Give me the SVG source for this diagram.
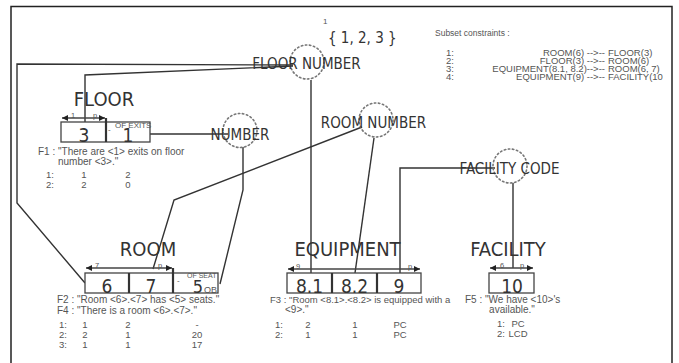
<svg xmlns="http://www.w3.org/2000/svg" width="679" height="363" viewBox="0 0 679 363">
<style>
.title{font-family:"DejaVu Sans Condensed","DejaVu Sans",sans-serif;font-size:20px;fill:#333}
.role{font-family:"DejaVu Sans Condensed","DejaVu Sans",sans-serif;font-size:15px;fill:#333}
.val{font-family:"DejaVu Sans Condensed","DejaVu Sans",sans-serif;font-size:19px;fill:#333;text-anchor:middle}
.sm{font-family:"Liberation Sans",Arial,sans-serif;font-size:10px;fill:#555}
.sc{font-family:"Liberation Sans",Arial,sans-serif;font-size:9.5px;fill:#555}
.tb{font-family:"Liberation Sans",Arial,sans-serif;font-size:9.5px;fill:#555}
.tiny{font-family:"Liberation Sans",Arial,sans-serif;font-size:8px;fill:#555}
.lab{font-family:"Liberation Sans",Arial,sans-serif;font-size:7.5px;fill:#555}
.mid{text-anchor:middle}
.end{text-anchor:end}
.box{fill:#fff;stroke:#444;stroke-width:1.3}
.sep{stroke:#333;stroke-width:2.2}
.arr{stroke:#444;stroke-width:1.3;marker-start:url(#ah);marker-end:url(#ah)}
.con{fill:none;stroke:#333;stroke-width:1.4}
.dot{fill:none;stroke:#777;stroke-width:1.6;stroke-dasharray:1.5 2.6;stroke-linecap:round}
</style>
<defs>
<marker id="ah" viewBox="0 0 6 6" refX="6" refY="3" markerWidth="6" markerHeight="6" markerUnits="userSpaceOnUse" orient="auto-start-reverse">
<path d="M0,0 L6,3 L0,6 z" fill="#222"/>
</marker>
</defs>
<rect x="0" y="0" width="679" height="363" fill="#fff"/>
<rect x="11" y="6.5" width="661" height="370" fill="none" stroke="#222" stroke-width="1.5"/>

<g id="connectors">
<polyline class="con" points="293,65 17,64 17,203 85,283"/>
<polyline class="con" points="293,66 85,75 85,122"/>
<polyline class="con" points="150,134 228,134"/>
<polyline class="con" points="243,147 243,190 220,284"/>
<polyline class="con" points="362,127 174,200 153,269"/>
<polyline class="con" points="374,138 355,273"/>
<polyline class="con" points="311,80 311,273"/>
<polyline class="con" points="400,273 400,168 495,168"/>
<polyline class="con" points="513,183 513,268"/>
</g>

<g id="value-set">
<text class="tiny" x="323" y="24">1</text>
<text class="role" x="328" y="43">{ 1, 2, 3 }</text>
</g>

<g id="subset-constraints">
<text class="tiny" x="435" y="36" style="font-size:8.5px">Subset constraints :</text>
<text class="sc" x="446" y="56">1:</text>
<text class="sc" x="446" y="64">2:</text>
<text class="sc" x="446" y="72">3:</text>
<text class="sc" x="446" y="80">4:</text>
<text class="sc end" x="605" y="56">ROOM(6) --&gt;--</text>
<text class="sc end" x="605" y="64">FLOOR(3) --&gt;--</text>
<text class="sc end" x="605" y="72">EQUIPMENT(8.1, 8.2)--&gt;--</text>
<text class="sc end" x="605" y="80">EQUIPMENT(9) --&gt;--</text>
<text class="sc" x="608" y="56">FLOOR(3)</text>
<text class="sc" x="608" y="64">ROOM(6)</text>
<text class="sc" x="608" y="72">ROOM(6, 7)</text>
<text class="sc" x="608" y="80">FACILITY(10</text>
</g>

<g id="floor-number">
<circle class="dot" cx="307" cy="62" r="17"/>
<text class="role mid" x="306.5" y="69">FLOOR NUMBER</text>
</g>
<g id="number">
<circle class="dot" cx="240" cy="130.5" r="17"/>
<text class="role mid" x="240" y="140">NUMBER</text>
</g>
<g id="room-number">
<circle class="dot" cx="376" cy="120" r="17"/>
<text class="role mid" x="373.5" y="128">ROOM NUMBER</text>
</g>
<g id="facility-code">
<circle class="dot" cx="510" cy="166" r="17"/>
<text class="role mid" x="509.5" y="174">FACILITY CODE</text>
</g>

<g id="floor">
<text class="title mid" x="104" y="106">FLOOR</text>
<line class="arr" x1="62" y1="118" x2="105" y2="118"/>
<text class="lab" x="71" y="117.5">1</text>
<text class="lab" x="93" y="117.5">p</text>
<rect class="box" x="61" y="122" width="89" height="20"/>
<line class="sep" x1="106" y1="118" x2="106" y2="142"/>
<text class="val" x="84" y="141.5">3</text>
<text class="val" x="128" y="141.5">1</text>
<text class="tiny" x="108" y="132">-</text>
<text class="tiny" x="115" y="127.5">OF EXITS</text>
<text class="sm" x="38" y="155">F1 : "There are &lt;1&gt; exits on floor</text>
<text class="sm" x="58" y="165">number &lt;3&gt;."</text>
<text class="tb" x="46" y="178">1:</text>
<text class="tb mid" x="84" y="178">1</text>
<text class="tb mid" x="128" y="178">2</text>
<text class="tb" x="46" y="187.5">2:</text>
<text class="tb mid" x="84" y="187.5">2</text>
<text class="tb mid" x="128" y="187.5">0</text>
</g>

<g id="room">
<text class="title mid" x="148" y="256">ROOM</text>
<line class="arr" x1="86" y1="268" x2="172" y2="268"/>
<text class="lab" x="95" y="267.5">7</text>
<text class="lab" x="158" y="267.5">p</text>
<rect class="box" x="85" y="273" width="133" height="20"/>
<line class="sep" x1="129" y1="273" x2="129" y2="293"/>
<line class="sep" x1="173" y1="268" x2="173" y2="293"/>
<text class="val" x="107" y="292.5">6</text>
<text class="val" x="151" y="292.5">7</text>
<text class="tiny" x="177" y="283">-</text>
<text class="tiny" x="187" y="277.5" style="font-size:7px">OF SEAT</text>
<text class="val" x="198" y="293" style="font-size:18px">5</text>
<text class="sm" x="204" y="293" style="font-size:9px">OB</text>
<text class="sm" x="57" y="303">F2 : "Room &lt;6&gt;.&lt;7&gt; has &lt;5&gt; seats."</text>
<text class="sm" x="57" y="314">F4 : "There is a room &lt;6&gt;.&lt;7&gt;."</text>
<text class="tb" x="59" y="328">1:</text>
<text class="tb mid" x="85" y="328">1</text>
<text class="tb mid" x="128" y="328">2</text>
<text class="tb mid" x="197" y="328">-</text>
<text class="tb" x="59" y="338">2:</text>
<text class="tb mid" x="85" y="338">2</text>
<text class="tb mid" x="128" y="338">1</text>
<text class="tb mid" x="197" y="338">20</text>
<text class="tb" x="59" y="348">3:</text>
<text class="tb mid" x="85" y="348">1</text>
<text class="tb mid" x="128" y="348">1</text>
<text class="tb mid" x="197" y="348">17</text>
</g>

<g id="equipment">
<text class="title mid" x="347.5" y="256">EQUIPMENT</text>
<line class="arr" x1="288" y1="269" x2="420" y2="269"/>
<text class="lab" x="296" y="268.5">9</text>
<text class="lab" x="408" y="268.5">p</text>
<rect class="box" x="287" y="273" width="134" height="20"/>
<line class="sep" x1="332" y1="273" x2="332" y2="293"/>
<line class="sep" x1="377" y1="273" x2="377" y2="293"/>
<text class="val" x="309.5" y="292.5">8.1</text>
<text class="val" x="354.5" y="292.5">8.2</text>
<text class="val" x="399" y="292.5">9</text>
<text class="sm" x="270" y="303" style="font-size:9.5px">F3 : "Room &lt;8.1&gt;.&lt;8.2&gt; is equipped with a</text>
<text class="sm" x="285" y="313">&lt;9&gt;."</text>
<text class="tb" x="275" y="328">1:</text>
<text class="tb mid" x="308" y="328">2</text>
<text class="tb mid" x="355" y="328">1</text>
<text class="tb mid" x="400" y="328">PC</text>
<text class="tb" x="275" y="338">2:</text>
<text class="tb mid" x="308" y="338">1</text>
<text class="tb mid" x="355" y="338">1</text>
<text class="tb mid" x="400" y="338">PC</text>
</g>

<g id="facility">
<text class="title mid" x="508" y="256">FACILITY</text>
<line class="arr" x1="490" y1="268" x2="533" y2="268"/>
<text class="lab" x="500" y="267.5">6</text>
<text class="lab" x="520" y="267.5">p</text>
<rect class="box" x="489" y="273" width="45" height="20"/>
<text class="val" x="512" y="292.5">10</text>
<text class="sm" x="465" y="303">F5 : "We have &lt;10&gt;'s</text>
<text class="sm mid" x="512" y="313">available."</text>
<text class="tb" x="497" y="327">1:</text>
<text class="tb mid" x="518" y="327">PC</text>
<text class="tb" x="497" y="337">2:</text>
<text class="tb mid" x="518" y="337">LCD</text>
</g>
</svg>
